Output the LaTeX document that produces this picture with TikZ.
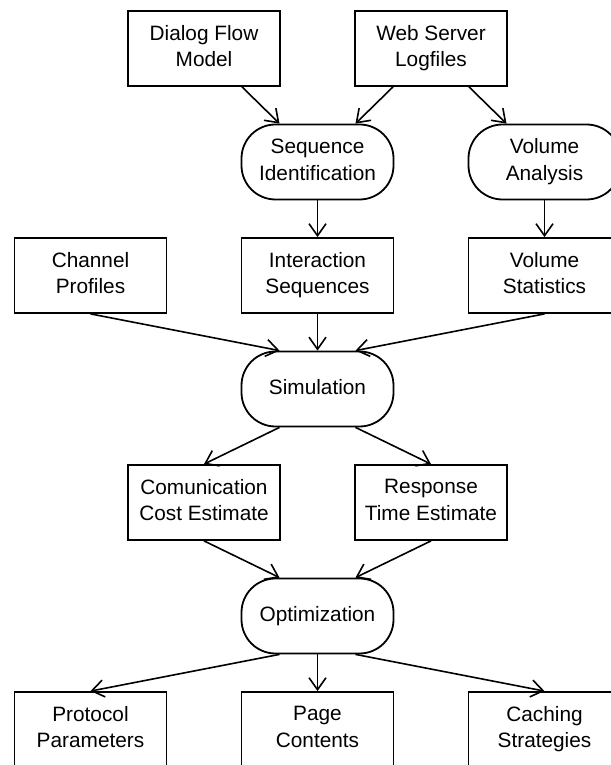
\documentclass[tikz,border=0pt]{standalone}
\usepackage{fontspec}
\setmainfont{Liberation Sans}
\usetikzlibrary{arrows.meta}
\newcommand\boxstrut{\rule[-5pt]{0pt}{20pt}}

\begin{document}
\begin{tikzpicture}[x=1pt,y=1pt]

\tikzset{box/.style = {shape=rectangle,draw,line width=1.8pt,minimum width=152pt,minimum height=75pt,inner sep=2pt,align=center,
  font=\fontsize{20.8}{26.5}\selectfont,execute at begin node=\boxstrut,execute at end node=\boxstrut}}
\tikzset{task/.style = {box,rounded corners=34pt}}
\tikzset{edge/.style = {-{Straight Barb[length=12pt,width=17pt]},line width=1.6pt}}

\useasboundingbox (0,0) rectangle (610,765);

%inputs
\node[box] (dialog) at (204,716.5) {Dialog Flow\\Model};
\node[box] (logs) at (431,716.5) {Web Server\\Logfiles};
%analysis
\node[task] (seqid) at (317.5,603) {Sequence\\Identification};
\node[task] (volana) at (544.5,603) {Volume\\Analysis};
%intermediate data
\node[box] (channel) at (90.5,489.5) {Channel\\Profiles};
\node[box] (interseq) at (317.5,489.5) {Interaction\\Sequences};
\node[box] (volstat) at (544.5,489.5) {Volume\\Statistics};
\node[task] (sim) at (317.5,376) {Simulation};
\node[box] (comcost) at (204,262.5) {Comunication\\Cost Estimate};
\node[box] (resptime) at (431,262.5) {Response\\Time Estimate};
\node[task] (optim) at (317.5,149) {Optimization};
%results
\node[box] (protocol) at (90.5,35.5) {Protocol\\Parameters};
\node[box] (pages) at (317.5,35.5) {Page\\Contents};
\node[box] (caching) at (544.5,35.5) {Caching\\Strategies};

%edges
\draw[edge] ([xshift=38pt]dialog.south) -- ([xshift=-38pt]seqid.north);
\draw[edge] ([xshift=-38pt]logs.south) -- ([xshift=38pt]seqid.north);
\draw[edge] ([xshift=38pt]logs.south) -- ([xshift=-38pt]volana.north);
\draw[edge] (seqid.south) -- (interseq.north);
\draw[edge] (volana.south) -- (volstat.north);
\draw[edge] (channel.south) -- ([xshift=-38pt]sim.north);
\draw[edge] (interseq.south) -- (sim.north);
\draw[edge] (volstat.south) -- ([xshift=38pt]sim.north);
\draw[edge] ([xshift=-38pt]sim.south) -- (comcost.north);
\draw[edge] ([xshift=38pt]sim.south) -- (resptime.north);
\draw[edge] (comcost.south) -- ([xshift=-38pt]optim.north);
\draw[edge] (resptime.south) -- ([xshift=38pt]optim.north);
\draw[edge] ([xshift=-38pt]optim.south) -- (protocol.north);
\draw[edge] (optim.south) -- (pages.north);
\draw[edge] ([xshift=38pt]optim.south) -- (caching.north);

\end{tikzpicture}
\end{document}
